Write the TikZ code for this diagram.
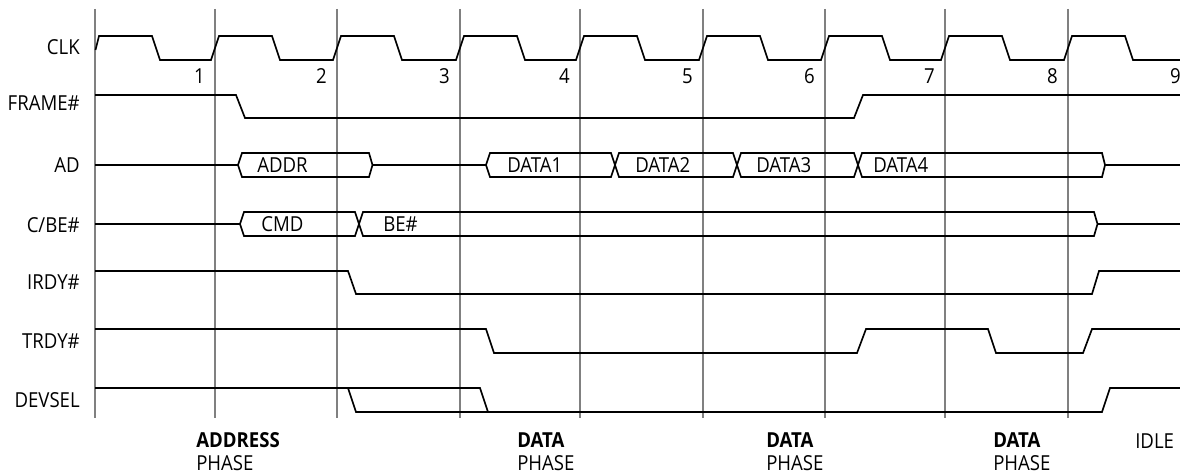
\documentclass[tikz,border=0pt]{standalone}
\usepackage{fontspec}
\setmainfont[FakeStretch=0.9]{Open Sans}
\begin{document}
\begin{tikzpicture}[x=0.75pt,y=-0.75pt,
  sig/.style={line width=1.25pt, line join=miter},
  gridline/.style={line width=1pt, draw=black!50},
  lbl/.style={inner sep=0pt, font=\fontsize{15.5pt}{17pt}\selectfont},
  phase/.style={inner sep=0pt, font=\fontsize{15.5pt}{17pt}\selectfont\bfseries, anchor=base west},
]
\useasboundingbox (0,0) rectangle (1180,474);
% grid lines
\foreach \x in {95,215,337,460,580,703,825,945,1068}
  \draw[gridline] (\x,9) -- (\x,418);
% signal labels
\node[lbl, anchor=base east] (lclk) at (80,55) {CLK};
\node[lbl, anchor=base east] (lframe) at (80,111) {FRAME\#};
\node[lbl, anchor=base east] (lad) at (80,172) {AD};
\node[lbl, anchor=base east] (lcbe) at (80,232) {C/BE\#};
\node[lbl, anchor=base east] (lirdy) at (80,289) {IRDY\#};
\node[lbl, anchor=base east] (ltrdy) at (80,348.5) {TRDY\#};
\node[lbl, anchor=base east] (ldevsel) at (80,407) {DEVSEL};
% clock numbers
\foreach \x/\n in {215/1,337/2,460/3,580/4,703/5,825/6,945/7,1068/8,1191/9}
  \node[lbl, anchor=base east] (n\n) at (\x-10,83.5) {\n};
% CLK
\draw[sig] (95.5,50)
  \foreach \a/\b in {95/215,215/337,337/460,460/580,580/703,703/825,825/945,945/1068,1068/1190}
  { -- (\a+4,36) -- (\a+57,36) -- (\a+65,60) -- (\b-4,60) };
% FRAME#
\draw[sig] (95,95) -- (236,95) -- (245,118) -- (854,118) -- (863,95) -- (1180,95);
% AD
\draw[sig] (95,165) -- (238,165);
\draw[sig] (238,165) -- (242,153) -- (369,153) -- (372.5,165) -- (369,177) -- (242,177) -- cycle;
\draw[sig] (372.5,165) -- (486,165);
\draw[sig] (486,165) -- (490,153) -- (611,153) -- (619,177) -- (733,177) -- (741,153) -- (854,153) -- (862,177)
  -- (1102,177) -- (1105,165) -- (1102,153) -- (862,153) -- (854,177) -- (741,177) -- (733,153) -- (619,153)
  -- (611,177) -- (490,177) -- cycle;
\draw[sig] (1105,165) -- (1180,165);
\node[lbl, anchor=base west] (taddr) at (257,172.4) {ADDR};
\node[lbl, anchor=base west] (td1) at (507,172.4) {DATA1};
\node[lbl, anchor=base west] (td2) at (635,172.4) {DATA2};
\node[lbl, anchor=base west] (td3) at (756,172.4) {DATA3};
\node[lbl, anchor=base west] (td4) at (873,172.4) {DATA4};
% C/BE#
\draw[sig] (95,224) -- (240,224);
\draw[sig] (240,224) -- (244,212) -- (355,212) -- (363,236) -- (1094,236) -- (1097.5,224) -- (1094,212)
  -- (363,212) -- (355,236) -- (244,236) -- cycle;
\draw[sig] (1097.5,224) -- (1180,224);
\node[lbl, anchor=base west] (tcmd) at (261,231.4) {CMD};
\node[lbl, anchor=base west] (tbe) at (383,231.4) {BE\#};
% IRDY#
\draw[sig] (95,271) -- (348,271) -- (356,294) -- (1092,294) -- (1099,271) -- (1180,271);
% TRDY#
\draw[sig] (95,329) -- (486,329) -- (494,353) -- (857,353) -- (866,329) -- (988,329) -- (996,353)
  -- (1083,353) -- (1092,329) -- (1180,329);
% DEVSEL
\draw[sig] (95,388) -- (480,388) -- (488,412);
\draw[sig] (348,388) -- (356,412) -- (1102,412) -- (1110,388) -- (1180,388);
% phase labels
\node[phase] (pa1) at (196,447) {ADDRESS};
\node[lbl, anchor=base west] (pa2) at (196,470) {PHASE};
\node[phase] (pd1) at (517,447) {DATA};
\node[lbl, anchor=base west] (pd1b) at (517,470) {PHASE};
\node[phase] (pd2) at (766,447) {DATA};
\node[lbl, anchor=base west] (pd2b) at (766,470) {PHASE};
\node[phase] (pd3) at (993,447) {DATA};
\node[lbl, anchor=base west] (pd3b) at (993,470) {PHASE};
\node[lbl, anchor=base west] (pidle) at (1135,448) {IDLE};
\end{tikzpicture}
\end{document}
